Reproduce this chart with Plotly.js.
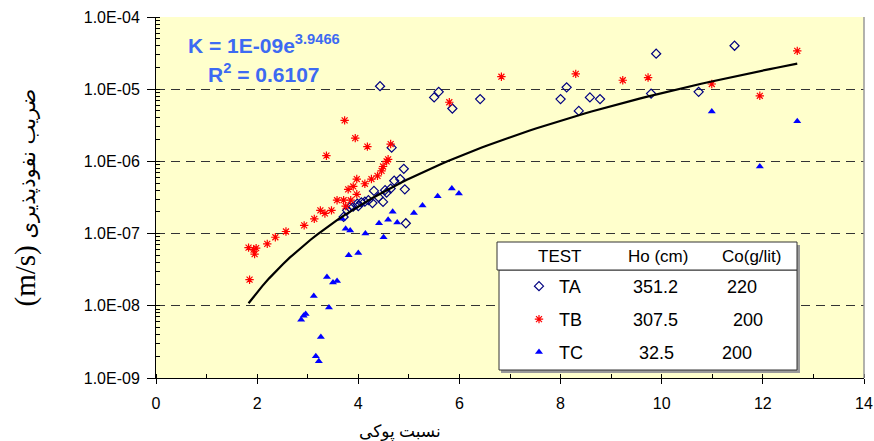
<!DOCTYPE html>
<html><head><meta charset="utf-8">
<script src="https://cdn.plot.ly/plotly-3.0.1.min.js"></script>
<style>body{margin:0;background:#fff}#chart{width:874px;height:441px}</style>
</head><body><div id="chart"></div>
<script>
// ---- data ----
var seriesNames = ["TA", "TB", "TC"];
var hoValues = ["351.2", "307.5", "32.5"];
var coValues = ["220", "200", "200"];
var tableHeader = ["TEST", "Ho (cm)", "Co(g/lit)"];

var taX = [4.43, 5.50, 5.59, 5.86, 6.41, 8.00, 8.12, 8.36, 8.58, 8.78, 9.79, 9.89, 10.73, 11.44,
           4.66, 4.90, 4.71, 4.83, 4.92, 4.31, 4.53, 4.56, 4.64, 4.40, 4.49, 4.28, 4.20, 4.13,
           4.06, 3.98, 4.00, 3.90, 3.83, 3.78, 3.71, 4.94];
var taY = [1.1e-5, 7.7e-6, 9.2e-6, 5.4e-6, 7.3e-6, 7.3e-6, 1.06e-5, 5.0e-6, 7.7e-6, 7.3e-6, 8.7e-6, 3.1e-5, 9.2e-6, 4.0e-5,
           1.55e-6, 7.9e-7, 5.4e-7, 5.7e-7, 4.1e-7, 3.9e-7, 4.0e-7, 3.7e-7, 4.2e-7, 3.2e-7, 2.75e-7, 2.65e-7, 2.9e-7, 2.77e-7,
           2.7e-7, 2.6e-7, 2.4e-7, 2.36e-7, 2.3e-7, 2.1e-7, 1.7e-7, 1.39e-7];

var tbX = [1.83, 1.98, 1.95, 1.93, 1.85, 2.20, 2.36, 2.57, 2.93, 3.13, 3.25, 3.34, 3.47, 3.58, 3.71, 3.75,
           3.85, 3.80, 3.90, 3.97, 3.97, 4.13, 4.26, 4.38, 4.46, 4.49, 4.56, 4.59, 4.64, 3.37, 3.73, 3.94,
           4.18, 5.80, 6.83, 8.30, 9.23, 9.73, 10.99, 11.94, 12.68];
var tbY = [6.4e-8, 6.3e-8, 5.2e-8, 6.0e-8, 2.3e-8, 7.2e-8, 8.9e-8, 1.07e-7, 1.3e-7, 1.6e-7, 2.1e-7, 1.9e-7, 2.1e-7, 2.9e-7, 2.9e-7, 2.4e-7,
           2.9e-7, 4.1e-7, 4.5e-7, 3.5e-7, 5.7e-7, 4.9e-7, 5.7e-7, 6.3e-7, 7.4e-7, 8.5e-7, 1.0e-6, 1.07e-6, 1.74e-6, 1.2e-6, 3.7e-6, 2.1e-6,
           1.6e-6, 6.6e-6, 1.49e-5, 1.63e-5, 1.33e-5, 1.45e-5, 1.18e-5, 8.1e-6, 3.4e-5];

var tcX = [3.68, 3.75, 3.84, 4.14, 3.81, 4.00, 4.41, 4.50, 4.59, 4.68, 4.77, 5.10, 5.27, 5.57, 5.85, 5.99,
           3.38, 3.50, 3.58, 3.12, 3.42, 2.96, 2.92, 2.87, 3.26, 3.16, 3.22, 10.99, 11.94, 12.68];
var tcY = [1.6e-7, 1.17e-7, 1.1e-7, 1.0e-7, 5.0e-8, 5.4e-8, 1.39e-7, 8.9e-8, 1.55e-7, 2.0e-7, 1.43e-7, 1.93e-7, 2.45e-7, 3.3e-7, 4.2e-7, 3.6e-7,
           2.5e-8, 2.1e-8, 2.2e-8, 1.37e-8, 9.5e-9, 7.7e-9, 7.3e-9, 6.4e-9, 3.7e-9, 2.0e-9, 1.7e-9, 4.9e-6, 8.5e-7, 3.6e-6];

// fitted trend: K = 1E-09 * x^3.9466, over the data range
var fitCoef = 1e-9, fitExp = 3.9466, fitR2 = "0.6107";
var fitXmin = 1.83, fitXmax = 12.68;

var yTickVals = [1e-9, 1e-8, 1e-7, 1e-6, 1e-5, 1e-4];
var yTickText = ["1.0E-09", "1.0E-08", "1.0E-07", "1.0E-06", "1.0E-05", "1.0E-04"];

// ---- build ----
var fitX = [], fitY = [];
for (var i = 0; i <= 80; i++) {
  var xv = fitXmin + (fitXmax - fitXmin) * i / 80;
  fitX.push(xv); fitY.push(fitCoef * Math.pow(xv, fitExp));
}

var W = 874, H = 441, mL = 156, mR = 10, mT = 17, mB = 63;
var pw = W - mL - mR, ph = H - mT - mB;
function px(x) { return (x - mL) / pw; }
function py(y) { return (H - mB - y) / ph; }

var font = "Liberation Sans, Arial, sans-serif";

var traces = [
  {x: taX, y: taY, type: "scatter", mode: "markers", name: seriesNames[0], legendgroup: "a",
   marker: {symbol: "diamond-open", size: 7, color: "#000080", line: {width: 1.2, color: "#000080"}}},
  {x: tbX, y: tbY, type: "scatter", mode: "markers", name: seriesNames[1], legendgroup: "b",
   marker: {symbol: "asterisk-open", size: 7, color: "#ff0000", line: {width: 1.2, color: "#ff0000"}}},
  {x: tcX, y: tcY, type: "scatter", mode: "markers", name: seriesNames[2], legendgroup: "c",
   marker: {symbol: "triangle-up", size: 7, color: "#0000ff"}},
  {x: fitX, y: fitY, type: "scatter", mode: "lines", showlegend: false, hoverinfo: "skip", legendgroup: "d",
   line: {color: "#000", width: 2.2}}
];

var annotations = [
  {xref: "paper", yref: "paper", x: px(186), y: py(44), xanchor: "left", yanchor: "middle", showarrow: false,
   text: "<b>K = 1E-09e<sup>" + fitExp + "</sup></b>", font: {family: font, size: 21, color: "#3d6af2"}},
  {xref: "paper", yref: "paper", x: px(206), y: py(73), xanchor: "left", yanchor: "middle", showarrow: false,
   text: "<b>R<sup>2</sup> = " + fitR2 + "</b>", font: {family: font, size: 21, color: "#3d6af2"}},
  {xref: "paper", yref: "paper", x: px(400), y: py(432), xanchor: "center", yanchor: "middle", showarrow: false,
   text: "نسبت پوکی", font: {family: "Liberation Serif, DejaVu Sans", size: 17, color: "#000"}}
];
var headX = [559, 658, 752];
for (var k = 0; k < 3; k++) {
  annotations.push({xref: "paper", yref: "paper", x: px(headX[k]), y: py(256), xanchor: "center", yanchor: "middle",
    showarrow: false, text: tableHeader[k], font: {family: font, size: 17, color: "#000"}});
}
var rowY = [287, 320, 353];
var hoX = [655, 655, 656], coX = [742, 748, 737];
for (var r = 0; r < 3; r++) {
  annotations.push({xref: "paper", yref: "paper", x: px(hoX[r]), y: py(rowY[r]), xanchor: "center", yanchor: "middle",
    showarrow: false, text: hoValues[r], font: {family: font, size: 18, color: "#000"}});
  annotations.push({xref: "paper", yref: "paper", x: px(coX[r]), y: py(rowY[r]), xanchor: "center", yanchor: "middle",
    showarrow: false, text: coValues[r], font: {family: font, size: 18, color: "#000"}});
}

var shapes = [
  // right border
  {type: "line", xref: "paper", yref: "paper", x0: 1, x1: 1, y0: 0, y1: 1, line: {color: "#999", width: 1.5}},
  // table shadow
  {type: "rect", xref: "paper", yref: "paper", x0: px(501), x1: px(800), y0: py(373), y1: py(245),
   fillcolor: "#9a9a9a", line: {width: 0}},
  // table body
  {type: "rect", xref: "paper", yref: "paper", x0: px(499), x1: px(797), y0: py(370), y1: py(270),
   fillcolor: "#fff", line: {color: "#333", width: 1}},
  // table header
  {type: "rect", xref: "paper", yref: "paper", x0: px(497), x1: px(797), y0: py(270), y1: py(242),
   fillcolor: "#fff", line: {color: "#333", width: 1}}
];

var layout = {
  width: W, height: H,
  margin: {l: mL, r: mR, t: mT, b: mB},
  paper_bgcolor: "#fff", plot_bgcolor: "#ffffcc",
  font: {family: font, color: "#000"},
  showlegend: true,
  legend: {x: px(519), y: py(268), xanchor: "left", yanchor: "top", bgcolor: "rgba(0,0,0,0)",
           font: {family: font, size: 18, color: "#000"}, tracegroupgap: 6.5, traceorder: "grouped"},
  xaxis: {range: [0, 14], tick0: 0, dtick: 2, showgrid: false, zeroline: false,
          showline: true, linecolor: "#000", linewidth: 1, ticks: "outside", ticklen: 5, tickcolor: "#000",
          minor: {dtick: 1, ticks: "inside", ticklen: 4, tickcolor: "#000", showgrid: false},
          tickfont: {family: font, size: 16, color: "#000"}, ticklabelstandoff: 6},
  yaxis: {type: "log", range: [-9, -4], tickmode: "array", tickvals: yTickVals, ticktext: yTickText,
          showgrid: true, gridcolor: "#333", griddash: "9px,6px", gridwidth: 1, zeroline: false,
          showline: true, linecolor: "#000", linewidth: 1, ticks: "outside", ticklen: 8, tickcolor: "#000",
          minor: {dtick: "D1", ticks: "inside", ticklen: 4, tickcolor: "#000", showgrid: false},
          tickfont: {family: font, size: 16, color: "#000"}, ticklabelstandoff: 4,
          title: {text: '<span style="font-family:serif;font-size:29px">(m/s)</span> ضریب نفوذپذیری',
                  font: {family: "DejaVu Sans", size: 21, color: "#000"}, standoff: 42},
          automargin: false},
  annotations: annotations,
  shapes: shapes
};

Plotly.newPlot("chart", traces, layout, {displayModeBar: false, staticPlot: true});
</script></body></html>
